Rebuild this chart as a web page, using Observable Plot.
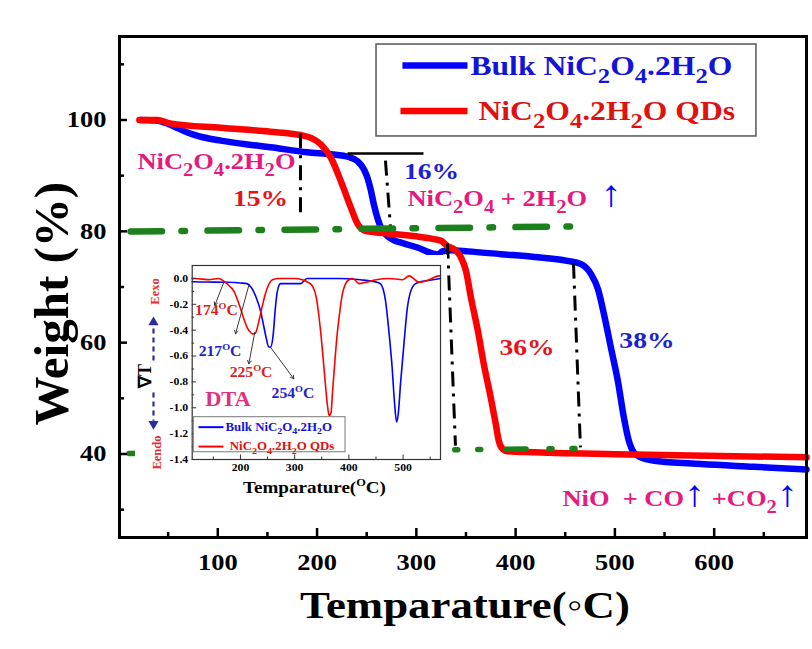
<!DOCTYPE html>
<html><head><meta charset="utf-8">
<script src="https://cdn.jsdelivr.net/npm/d3@7"></script>
<script src="https://cdn.jsdelivr.net/npm/@observablehq/plot@0.6"></script>
<style>
html,body{margin:0;padding:0;background:#fff;}
#wrap{position:relative;width:812px;height:649px;overflow:hidden;background:#fff;}
#wrap svg{display:block;}
#inset{position:absolute;left:135px;top:255px;}
</style></head><body><div id="wrap"><div id="main"></div><div id="inset"></div></div>
<script>
// ---------------- data ----------------
// TGA, bulk NiC2O4.2H2O: temperature (°C) / weight (%)
const bulkT = [22, 38, 50, 60, 70, 85, 103, 130, 153, 190, 217, 231, 240, 247, 251, 254, 257, 261, 264, 270, 277, 284, 301, 317, 322, 326, 335, 352, 385, 419, 452, 466, 476, 483, 489, 496, 503, 509, 514, 519, 526, 540, 587, 640, 693];
const bulkW = [100, 99.9, 99.3, 98.5, 97.7, 96.9, 96.3, 95.6, 95.1, 94.2, 93.8, 93.4, 92.7, 91.2, 89.5, 87.5, 85.0, 82.3, 80.8, 79.3, 78.4, 78.0, 77.1, 76.0, 75.8, 76.4, 76.6, 76.4, 75.9, 75.4, 74.7, 74.1, 72.3, 69.6, 65.1, 59.1, 53.1, 46.6, 42.4, 40.3, 39.4, 38.8, 38.2, 37.7, 37.2];
// TGA, NiC2O4.2H2O QDs
const qdT = [21, 39, 52, 103, 153, 183, 194, 204, 214, 224, 234, 241, 247, 255, 271, 300, 318, 325, 331, 340, 345, 350, 355, 362, 368, 375, 380, 383, 387, 392, 419, 519, 693];
const qdW = [100, 100, 99.4, 98.6, 97.9, 97.3, 96.8, 95.6, 93.2, 89.0, 84.3, 81.3, 80.2, 79.9, 79.6, 79.1, 78.6, 78.3, 77.4, 76.5, 75.3, 72.9, 68.1, 62.1, 56.1, 50.1, 45.4, 42.4, 40.9, 40.5, 40.3, 39.9, 39.4];
// DTA inset, bulk
const dtaBulkT = [111, 140, 175, 200, 212, 220, 231, 237, 243, 248, 252, 255.5, 260, 264.6, 268, 274, 290, 311, 323, 341, 380, 421, 452, 458, 467.5, 473.6, 479.8, 484, 488, 491, 495.5, 501.7, 507.8, 514, 523, 539, 555, 569];
const dtaBulkV = [-0.026, -0.028, -0.03, -0.035, -0.04, -0.07, -0.17, -0.25, -0.37, -0.47, -0.53, -0.53, -0.45, -0.22, -0.1, -0.04, -0.04, -0.04, 0.0, 0.0, 0.0, -0.01, -0.03, -0.04, -0.17, -0.4, -0.69, -0.95, -1.11, -1.05, -0.8, -0.5, -0.23, -0.1, -0.04, -0.02, -0.01, 0.0];
// DTA inset, QDs
const dtaQdT = [111, 130, 142, 160, 172, 180, 188, 195, 200, 206, 212.5, 219, 223.5, 228, 234, 240, 246.5, 253, 259, 271, 300, 314, 325, 333, 340, 345, 350, 354, 358, 361, 363.5, 367, 370, 374, 378, 382, 388, 394, 400, 407, 419, 431, 450, 474, 499, 511, 530, 548, 566, 569];
const dtaQdV = [0.0, -0.005, -0.01, 0.0, -0.03, -0.06, -0.1, -0.17, -0.23, -0.31, -0.38, -0.42, -0.43, -0.42, -0.33, -0.22, -0.11, -0.04, -0.01, 0.0, 0.0, -0.01, -0.03, -0.06, -0.15, -0.3, -0.5, -0.69, -0.88, -1.0, -1.06, -1.04, -0.87, -0.65, -0.45, -0.3, -0.12, -0.04, -0.01, 0.0, -0.04, -0.03, -0.01, 0.0, -0.01, 0.02, -0.03, -0.01, 0.02, 0.02];

const xTicks = [100, 200, 300, 400, 500, 600];
const xMinorTicks = [50, 150, 250, 350, 450, 550, 650];
const yTicks = [40, 60, 80, 100];
const yMinorTicks = [30, 50, 70, 90, 110];
const insetXTicks = [200, 300, 400, 500];
const insetXMinor = [150, 250, 350, 450, 550];
const insetYTicks = [0, -0.2, -0.4, -0.6, -0.8, -1.0, -1.2, -1.4];
const insetYMinor = [-0.1, -0.3, -0.5, -0.7, -0.9, -1.1, -1.3];

const seriesNames = ["Bulk NiC_2O_4.2H_2O", "NiC_2O_4.2H_2O QDs"];
const massLoss = ["15%", "16%", "36%", "38%"];
const phases = ["NiC_2O_4.2H_2O", "NiC_2O_4 + 2H_2O  {↑}", "NiO  + CO{↑} +CO_2{↑}"];
const peakLabels = ["174^OC", "217^OC", "225^OC", "254^OC"];
const xTitle = "Temparature(◦C)";
const yTitle = "Weight (%)";
const insetXTitle = "Temparature(^OC)";

// ---------------- styles ----------------
const BLUE = "#0000ff", RED = "#ff0000", GREEN = "#1c801c";
const MAG = "#e6197e", TRED = "#e5141a", TBLUE = "#1e1ed2", NAVY = "#2b2ba3";
const FONT = "font-family:'Liberation Serif','Times New Roman',serif;font-weight:bold;background:white;overflow:visible;";

const tup = (a, b) => a.map((t, i) => [t, b[i]]);

// main plot geometry
const M = {top: 36, right: 6, bottom: 112, left: 119};
const innerW = 812 - M.left - M.right, innerH = 649 - M.top - M.bottom;

const txt = (s, o) => Plot.text([s], {text: d => d, ...o});
const seg = (o, style) => Plot.link([0], {...o, ...style});

const main = Plot.plot({
  width: 812, height: 649,
  marginTop: M.top, marginRight: M.right, marginBottom: M.bottom, marginLeft: M.left,
  x: {domain: [1, 693]},
  y: {domain: [25, 115]},
  style: FONT,
  marks: [
    Plot.line(tup(bulkT, bulkW), {stroke: BLUE, strokeWidth: 6.5, curve: "monotone-x"}),
    Plot.line(tup(qdT, qdW), {stroke: RED, strokeWidth: 6.5, curve: "monotone-x"}),
    // black dash-dot guides
    seg({x1: 183.3, y1: 97.6, x2: 183.3, y2: 83.2}, {stroke: "black", strokeWidth: 3, strokeDasharray: "15,7,3,7"}),
    seg({x1: 268.9, y1: 92.7, x2: 274.0, y2: 80.7}, {stroke: "black", strokeWidth: 3, strokeDasharray: "15,7,3,7"}),
    seg({x1: 230.7, y1: 94.0, x2: 307.2, y2: 94.0}, {stroke: "black", strokeWidth: 2.5}),
    seg({x1: 331.4, y1: 77.8, x2: 339.4, y2: 41.5}, {stroke: "black", strokeWidth: 3, strokeDasharray: "15,7,3,7"}),
    seg({x1: 458.3, y1: 74.2, x2: 465.3, y2: 41.2}, {stroke: "black", strokeWidth: 3, strokeDasharray: "15,7,3,7"}),
    // green levels
    seg({x1: 12.1, y1: 79.97, x2: 455.3, y2: 80.87}, {stroke: GREEN, strokeWidth: 6.5, strokeLinecap: "round", strokeDasharray: "31.5,19.5,3.5,22.5"}),
    seg({x1: 10.6, y1: 40.09, x2: 460.3, y2: 40.99}, {stroke: GREEN, strokeWidth: 5.5, strokeLinecap: "round", strokeDasharray: "20,23,3,20,3,25.25"}),
    // legend
    Plot.rect([0], {x1: 259.9, x2: 642.6, y1: 97.04, y2: 113.56, fill: "white", stroke: "#555", strokeWidth: 1.5}),
    seg({x1: 286.0, x2: 351.5, y1: 109.8, y2: 109.8}, {stroke: BLUE, strokeWidth: 6.5}),
    seg({x1: 284.0, x2: 351.5, y1: 101.6, y2: 101.6}, {stroke: RED, strokeWidth: 6.5}),
    txt(seriesNames[0], {x: 354.5, y: 109.7, textAnchor: "start", fill: "#1414d8", fontSize: 27.5}),
    txt(seriesNames[1], {x: 362.6, y: 101.6, textAnchor: "start", fill: "#e31010", fontSize: 27.5}),
    // annotations
    txt(phases[0], {x: 19.1, y: 92.55, textAnchor: "start", fill: MAG, fontSize: 23}),
    txt(massLoss[0], {x: 143.0, y: 86.0, fill: TRED, fontSize: 24}),
    txt(massLoss[1], {x: 315.3, y: 90.7, fill: TBLUE, fontSize: 24}),
    txt(phases[1], {x: 291.1, y: 85.9, textAnchor: "start", fill: MAG, fontSize: 23}),
    txt(massLoss[2], {x: 411.5, y: 59.2, fill: TRED, fontSize: 24}),
    txt(massLoss[3], {x: 532.3, y: 60.4, fill: TBLUE, fontSize: 24}),
    txt(phases[2], {x: 447.2, y: 32.0, textAnchor: "start", fill: MAG, fontSize: 23}),
    // frame & ticks (inside)
    Plot.frame({stroke: "black", strokeWidth: 3}),
    Plot.ruleX(xTicks, {insetTop: innerH - 9, stroke: "black", strokeWidth: 2.5}),
    Plot.ruleX(xMinorTicks, {insetTop: innerH - 5, stroke: "black", strokeWidth: 2.5}),
    Plot.ruleY(yTicks, {insetRight: innerW - 8, stroke: "black", strokeWidth: 2.5}),
    Plot.ruleY(yMinorTicks, {insetRight: innerW - 5, stroke: "black", strokeWidth: 2.5}),
    Plot.axisX({ticks: xTicks, tickSize: 0, tickPadding: 16, fontSize: 23, label: null, fill: "black"}),
    Plot.axisY({ticks: yTicks, tickSize: 0, tickPadding: 13, fontSize: 23, label: null, fill: "black"}),
    txt(xTitle, {frameAnchor: "bottom", x: 349.0, dy: 68, textAnchor: "middle", lineAnchor: "middle", fontSize: 39, fill: "black"}),
    txt(yTitle, {frameAnchor: "left", y: 67.0, dx: -67, rotate: -90, textAnchor: "middle", lineAnchor: "middle", fontSize: 49, fill: "black"})
  ]
});

// inset geometry
const IM = {top: 10, right: 7, bottom: 38, left: 56.7};
const IW = 312, IH = 242;
const iInnerW = IW - IM.left - IM.right, iInnerH = IH - IM.top - IM.bottom;
const arrowStyle = {stroke: "#222", strokeWidth: 0.9, headLength: 6};

const inset = Plot.plot({
  width: IW, height: IH,
  marginTop: IM.top, marginRight: IM.right, marginBottom: IM.bottom, marginLeft: IM.left,
  x: {domain: [111, 569]},
  y: {domain: [-1.4, 0.1]},
  style: FONT,
  marks: [
    Plot.line(tup(dtaBulkT, dtaBulkV), {stroke: BLUE, strokeWidth: 1.6, curve: "monotone-x"}),
    Plot.line(tup(dtaQdT, dtaQdV), {stroke: RED, strokeWidth: 1.6, curve: "monotone-x"}),
    Plot.frame({stroke: "#333", strokeWidth: 1.2}),
    Plot.ruleX(insetXTicks, {insetTop: iInnerH - 4.5, stroke: "#333", strokeWidth: 1}),
    Plot.ruleX(insetXMinor, {insetTop: iInnerH - 2.5, stroke: "#333", strokeWidth: 1}),
    Plot.ruleY(insetYTicks, {insetRight: iInnerW - 4.5, stroke: "#333", strokeWidth: 1}),
    Plot.ruleY(insetYMinor, {insetRight: iInnerW - 2.5, stroke: "#333", strokeWidth: 1}),
    Plot.axisX({ticks: insetXTicks, tickSize: 0, tickPadding: 4, fontSize: 10.5, label: null, fill: "black"}),
    Plot.axisY({ticks: insetYTicks, tickSize: 0, tickPadding: 4, fontSize: 10.5, label: null, fill: "black", tickFormat: d => d.toFixed(1)}),
    // peak labels + arrows
    Plot.arrow([0], {x1: 169.3, y1: -0.029, x2: 152.7, y2: -0.209, ...arrowStyle}),
    Plot.arrow([0], {x1: 215.4, y1: -0.055, x2: 190.9, y2: -0.428, ...arrowStyle}),
    Plot.arrow([0], {x1: 226.5, y1: -0.416, x2: 215.4, y2: -0.660, ...arrowStyle}),
    Plot.arrow([0], {x1: 255.4, y1: -0.532, x2: 298.4, y2: -0.776, ...arrowStyle}),
    txt(peakLabels[0], {x: 155.8, y: -0.248, fill: "#e02020", fontSize: 14}),
    txt(peakLabels[1], {x: 162.3, y: -0.563, fill: "#2020d0", fontSize: 14}),
    txt(peakLabels[2], {x: 219.5, y: -0.725, fill: "#e02020", fontSize: 14}),
    txt(peakLabels[3], {x: 296.9, y: -0.892, fill: "#2020d0", fontSize: 14}),
    txt("DTA", {x: 177.0, y: -0.938, fill: "#e0307f", fontSize: 20}),
    // inset legend
    Plot.rect([0], {x1: 113.95, x2: 393.8, y1: -1.344, y2: -1.073, fill: "white", stroke: "#777", strokeWidth: 1}),
    seg({x1: 122.6, x2: 168.7, y1: -1.150, y2: -1.150}, {stroke: BLUE, strokeWidth: 2}),
    seg({x1: 122.6, x2: 168.7, y1: -1.300, y2: -1.300}, {stroke: RED, strokeWidth: 2}),
    txt(seriesNames[0], {x: 172.4, y: -1.150, textAnchor: "start", fill: "#1414d8", fontSize: 11.5}),
    txt(seriesNames[1], {x: 180.4, y: -1.300, textAnchor: "start", fill: "#e31010", fontSize: 11.5}),
    // left-side y annotation
    txt("Eexo", {x: 41.5, y: -0.101, rotate: -90, fill: "#e03030", fontSize: 12.5}),
    seg({x1: 39.6, x2: 39.6, y1: -0.635, y2: -0.36}, {stroke: NAVY, strokeWidth: 2.2, strokeDasharray: "5,4"}),
    Plot.dot([0], {x: 39.6, y: -0.34, symbol: "triangle", r: 3.8, fill: NAVY, stroke: "none"}),
    txt("∇T", {x: 24.9, y: -0.754, rotate: -90, fill: "black", fontSize: 18}),
    seg({x1: 39.6, x2: 39.6, y1: -0.882, y2: -1.10}, {stroke: NAVY, strokeWidth: 2.2, strokeDasharray: "5,4"}),
    Plot.dot([0], {x: 39.6, y: -1.125, symbol: "triangle", rotate: 180, r: 3.8, fill: NAVY, stroke: "none"}),
    txt("Eendo", {x: 45.6, y: -1.346, rotate: -90, fill: "#e03030", fontSize: 12.5}),
    txt(insetXTitle, {frameAnchor: "bottom", x: 336.6, dy: 28, textAnchor: "middle", lineAnchor: "middle", fontSize: 17, fill: "black"})
  ]
});

document.getElementById("main").appendChild(main);
document.getElementById("inset").appendChild(inset);

// rich text: _x subscript, ^x superscript, {..} blue arrow segment; plus horizontal stretch
function rich(svg, stretch) {
  const NS = "http://www.w3.org/2000/svg";
  svg.querySelectorAll("text").forEach(t => {
    const s = t.textContent;
    if (t.children.length === 0 && /[_^{]/.test(s)) {
      const fs = parseFloat(getComputedStyle(t).fontSize);
      t.textContent = "";
      let shift = 0, i = 0;
      const span = (str) => { const e = document.createElementNS(NS, "tspan"); e.textContent = str; t.appendChild(e); return e; };
      while (i < s.length) {
        const c = s[i];
        if (c === "_" || c === "^") {
          const target = c === "_" ? 0.3 * fs : -0.42 * fs;
          const e = span(s[i + 1]);
          e.setAttribute("dy", target - shift); shift = target;
          e.setAttribute("font-size", (c === "_" ? 0.78 : 0.65) * fs);
          i += 2;
        } else if (c === "{") {
          const j = s.indexOf("}", i);
          const e = span(s.slice(i + 1, j));
          if (shift) e.setAttribute("dy", -shift); shift = 0;
          e.setAttribute("fill", BLUE);
          e.setAttribute("font-weight", "normal");
          e.setAttribute("font-size", 1.6 * fs);
          i = j + 1;
        } else {
          let j = i;
          while (j < s.length && !"_^{".includes(s[j])) j++;
          const e = span(s.slice(i, j));
          if (shift) e.setAttribute("dy", -shift); shift = 0;
          i = j;
        }
      }
    }
    t.style.whiteSpace = "pre";
    const tr = t.getAttribute("transform");
    if (stretch && tr && !/rotate/.test(tr)) t.setAttribute("transform", tr + ` scale(${stretch},1)`);
  });
}
rich(main, 1.15);
rich(inset, 1.12);
</script></body></html>
